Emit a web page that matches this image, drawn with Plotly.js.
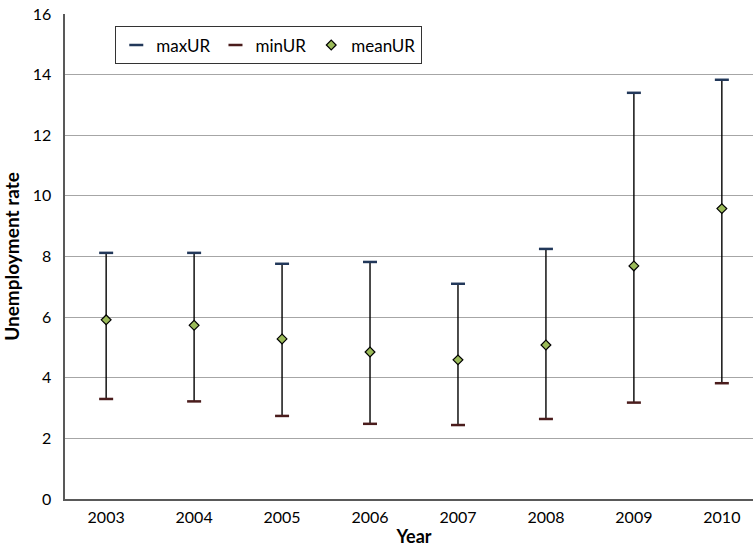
<!DOCTYPE html>
<html>
<head>
<meta charset="utf-8">
<script src="https://cdn.plot.ly/plotly-3.0.1.min.js"></script>
<style>html,body{margin:0;padding:0;overflow:hidden;background:#fff;}</style>
</head>
<body>
<div id="chart" style="width:763px;height:550px;"></div>
<script>
var years = ["2003","2004","2005","2006","2007","2008","2009","2010"];
var maxUR = [8.12, 8.12, 7.76, 7.82, 7.10, 8.25, 13.40, 13.83];
var minUR = [3.30, 3.22, 2.74, 2.48, 2.44, 2.64, 3.18, 3.82];
var meanUR = [5.91, 5.73, 5.28, 4.85, 4.59, 5.08, 7.69, 9.58];

var up = meanUR.map(function(m,i){return maxUR[i]-m;});
var down = meanUR.map(function(m,i){return m-minUR[i];});

var traces = [
  {x: years, y: meanUR, name: "meanUR", mode: "markers", type: "scatter", showlegend: false,
   hoverinfo: "skip",
   error_y: {type: "data", symmetric: false, array: up, arrayminus: down, color: "#000", thickness: 1.4, width: 0},
   marker: {size: 0.1, opacity: 0}},
  {x: years, y: maxUR, name: "maxUR", mode: "markers", type: "scatter",
   marker: {symbol: "line-ew-open", size: 10, color: "#22385A", line: {width: 2.5, color: "#22385A"}}},
  {x: years, y: minUR, name: "minUR", mode: "markers", type: "scatter",
   marker: {symbol: "line-ew-open", size: 10, color: "#4A1C1C", line: {width: 2.5, color: "#4A1C1C"}}},
  {x: years, y: meanUR, name: "meanUR", mode: "markers", type: "scatter",
   marker: {symbol: "diamond", size: 7.5, color: "#9BBB59", line: {width: 1.2, color: "#000"}}}
];

var layout = {
  width: 763, height: 550,
  margin: {l: 65, r: 0, t: 14, b: 51},
  paper_bgcolor: "#fff", plot_bgcolor: "#fff",
  font: {family: "Lato, 'Open Sans', sans-serif", size: 16, color: "#000"},
  showlegend: true,
  legend: {orientation: "h", x: 0.0716, y: 0.975, xanchor: "left", yanchor: "top",
           bordercolor: "#333", borderwidth: 1.3, bgcolor: "#fff", font: {size: 17},
           itemwidth: 30, traceorder: "normal"},
  xaxis: {type: "category", showgrid: false, showline: true, linecolor: "#595959", linewidth: 1.6,
          ticks: "outside", ticklen: 3, tickcolor: "rgba(0,0,0,0)",
          title: {text: "<b>Year</b>", font: {size: 18}, standoff: 5}, tickfont: {size: 16}},
  yaxis: {range: [0, 16], dtick: 2, showgrid: true, gridcolor: "#a6a6a6", gridwidth: 1.2,
          showline: true, linecolor: "#595959", linewidth: 1.6, ticks: "outside", ticklen: 9, tickcolor: "rgba(0,0,0,0)",
          zeroline: false,
          title: {text: "<b>Unemployment rate</b>", font: {size: 19}, standoff: 8}, tickfont: {size: 16}}
};

Plotly.newPlot("chart", traces, layout, {displayModeBar: false, staticPlot: true});
</script>
</body>
</html>
